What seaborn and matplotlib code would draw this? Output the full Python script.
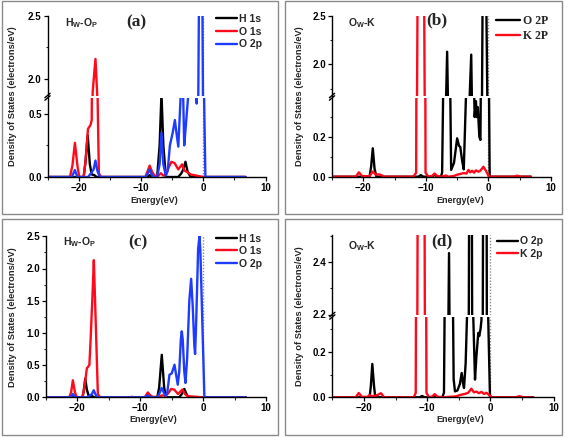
import matplotlib
matplotlib.use('Agg')
import matplotlib.pyplot as plt
from matplotlib.lines import Line2D
from matplotlib.patches import Rectangle
from matplotlib.ticker import MultipleLocator, FormatStrFormatter
import seaborn as sns

W, H = 567, 437

# ---- panel (a): Hw-Op ----
A_H1S_E = [-25, -19.2, -18.9, -18.55, -18.2, -17.9, -17.5, -17.1, -9.0, -8.6, -8.2, -7.4, -7.0, -6.7,
           -6.4, -6.0, -4.0, -3.5, -3.2, -2.85, -2.5, -2.0, 6.8]
A_H1S = [0, 0, 0.12, 0.33, 0.1, 0.02, 0.015, 0, 0, 0.015, 0, 0, 0.25, 0.66,
         0.25, 0, 0, 0.03, 0.06, 0.12, 0.04, 0, 0]
A_O1S_E = [-25, -21.4, -21.0, -20.6, -20.2, -19.9, -19.2, -18.9, -18.5, -18.1, -17.9, -17.75, -17.3,
           -17.0, -16.95, -16.75, -16.4, -9.3, -8.9, -8.6, -8.2, -7.8, -7.2, -6.8, -6.4, -6.0, -5.5,
           -5.1, -4.6, -4.0, -3.4, -3.0, -2.6, -2.0, -1.0, 0.0, 6.8]
A_O1S = [0, 0, 0.09, 0.27, 0.09, 0, 0, 0.12, 0.38, 0.41, 0.45, 1.9, 2.16,
         1.86, 0.6, 0.03, 0, 0, 0.05, 0.09, 0.04, 0.01, 0.01, 0.03, 0.01, 0.02, 0.08,
         0.12, 0.11, 0.06, 0.10, 0.05, 0.04, 0.02, 0.01, 0, 0]
A_O2P_E = [-25, -21.1, -20.6, -20.2, -18.5, -18.0, -17.6, -17.3, -17.0, -16.6, -9.2, -8.6, -8.1,
           -7.4, -7.0, -6.7, -6.4, -6.0, -5.7, -5.35, -4.9, -4.55, -4.3, -4.0, -3.63, -3.4, -3.2,
           -3.05, -2.8, -2.4, -1.8, -1.3, -1.05, -0.8, -0.6, -0.2, 0.0, 0.15, 0.35, 6.8]
A_O2P = [0, 0, 0.055, 0, 0, 0.03, 0.06, 0.13, 0.05, 0, 0, 0.06, 0,
         0, 0.1, 0.35, 0.1, 0.01, 0.05, 0.25, 0.35, 0.45, 0.35, 0.24, 0.63, 0.95, 0.6,
         0.25, 0.4, 0.65, 1.5, 0.9, 0.58, 1.8, 3.2, 3.2, 1.5, 0.6, 0, 0]

# ---- panel (b): Ow-K ----
B_O2P_E = [-25, -19.0, -18.75, -18.48, -18.2, -17.9, -11.2, -10.8, -10.4, -9.0, -8.6, -8.2, -7.6,
           -7.4, -7.0, -6.6, -6.3, -5.96, -5.5, -5.0, -4.7, -4.5, -4.2, -3.94, -3.5, -3.1, -2.75,
           -2.4, -2.2, -2.0, -1.85, -1.7, -1.45, -1.28, -1.1, -0.9, -0.4, -0.1, 0.2, 6.8]
B_O2P = [0, 0, 0.05, 0.143, 0.04, 0, 0, 0.008, 0, 0, 0.01, 0, 0,
         0.02, 1.0, 2.13, 1.0, 0.034, 0.07, 0.193, 0.155, 0.15, 0.08, 0.037, 0.5, 1.5, 2.1,
         0.6, 0.30, 0.38, 0.3, 0.35, 0.2, 0.185, 0.9, 3.0, 3.0, 1.2, 0, 0]
B_K2P_E = [-25, -21.2, -20.7, -20.2, -19.0, -18.5, -18.0, -17.5, -17.0, -16.6, -12.0, -11.55, -11.3,
           -10.3, -10.05, -9.6, -9.0, -8.6, -8.2, -7.5, -6.8, -6.4, -5.5, -5.0, -4.5, -4.0, -3.5,
           -3.2, -2.9, -2.6, -2.3, -2.0, -1.6, -1.3, -0.8, -0.4, 0.0, 0.3, 4.0, 4.6, 5.2, 6.8]
B_K2P = [0, 0, 0.022, 0.003, 0.002, 0.026, 0.01, 0.012, 0.006, 0, 0, 0.02, 3.0,
         3.0, 0.02, 0, 0.004, 0.016, 0.004, 0, 0.006, 0, 0.004, 0.01, 0.014, 0.018, 0.016,
         0.034, 0.022, 0.03, 0.02, 0.032, 0.025, 0.03, 0.05, 0.03, 0.005, 0, 0, 0.005, 0, 0]

# ---- panel (c): Hw-Op ----
C_H1S_E = [-25, -19.2, -19.0, -18.76, -18.5, -18.2, -17.7, -17.3, -7.3, -7.0, -6.58, -6.2, -5.9,
           -3.8, -3.4, -3.0, -2.6, -2.3, 6.8]
C_H1S = [0, 0, 0.1, 0.29, 0.12, 0.02, 0.02, 0, 0, 0.15, 0.66, 0.15, 0,
         0, 0.05, 0.13, 0.04, 0, 0]
C_O1S_E = [-25, -21.3, -21.0, -20.73, -20.4, -20.1, -19.2, -18.9, -18.5, -18.1, -17.9, -17.6, -17.39,
           -17.1, -16.75, -16.4, -11.6, -11.3, -11.0, -9.3, -8.8, -8.4, -8.0, -7.0, -6.5, -6.0,
           -5.5, -5.1, -4.6, -4.0, -3.3, -2.9, -2.5, -1.5, 0.0, 6.8]
C_O1S = [0, 0, 0.08, 0.264, 0.08, 0, 0, 0.15, 0.45, 0.5, 0.9, 1.6, 2.13,
         1.2, 0.05, 0, 0, 0.008, 0, 0, 0.075, 0.03, 0.005, 0.01, 0.03, 0.02,
         0.07, 0.13, 0.12, 0.05, 0.12, 0.05, 0.02, 0.01, 0, 0]
C_O2P_E = [-25, -21.1, -20.73, -20.3, -18.5, -18.0, -17.7, -17.4, -17.1, -16.8, -9.3, -8.8, -8.3,
           -7.3, -7.0, -6.6, -6.2, -5.95, -5.7, -5.36, -5.0, -4.56, -4.3, -4.04, -3.8, -3.55, -3.4,
           -3.25, -3.0, -2.81, -2.55, -2.2, -1.91, -1.65, -1.4, -1.28, -1.1, -0.8, -0.59, -0.45,
           0.2, 6.8]
C_O2P = [0, 0, 0.05, 0, 0, 0.03, 0.05, 0.11, 0.04, 0, 0, 0.03, 0,
         0, 0.05, 0.145, 0.06, 0.02, 0.08, 0.35, 0.37, 0.506, 0.35, 0.196, 0.4, 0.9, 1.025,
         0.9, 0.4, 0.222, 0.6, 1.5, 1.84, 1.4, 0.8, 0.672, 1.2, 2.3, 2.5, 2.3,
         0, 0]

# ---- panel (d): Ow-K ----
D_O2P_E = [-25, -19.1, -18.9, -18.67, -18.4, -18.2, -11.2, -10.8, -10.4, -9.1, -8.8, -8.5, -7.6,
           -7.33, -7.0, -6.53, -6.1, -5.8, -5.59, -5.2, -4.8, -4.53, -4.3, -4.16, -3.9, -3.64,
           -3.3, -2.95, -2.7, -2.42, -2.2, -1.9, -1.75, -1.55, -1.4, -1.1, -0.6, -0.45, -0.05, 6.8]
D_O2P = [0, 0, 0.05, 0.147, 0.05, 0, 0, 0.006, 0, 0, 0.01, 0, 0,
         0.02, 1.2, 2.435, 1.0, 0.08, 0.026, 0.03, 0.06, 0.107, 0.06, 0.041, 0.15, 0.4,
         3.0, 3.0, 0.36, 0.078, 0.18, 0.284, 0.27, 0.30, 0.34, 3.0, 3.0, 0.5, 0, 0]
D_K2P_E = [-25, -21.3, -20.82, -20.3, -19.4, -19.1, -18.8, -18.0, -17.3, -16.8, -12.1, -11.8, -11.45,
           -10.45, -10.1, -9.7, -9.2, -8.8, -8.4, -7.5, -5.5, -4.5, -4.0, -3.5, -3.0, -2.6, -2.2,
           -1.8, -1.4, -1.0, -0.6, -0.2, 0.3, 4.0, 4.6, 5.2, 6.8]
D_K2P = [0, 0, 0.019, 0.002, 0.002, 0.01, 0.004, 0.008, 0.018, 0, 0, 0.02, 3.0,
         3.0, 0.02, 0, 0.003, 0.014, 0.003, 0, 0.004, 0.012, 0.015, 0.02, 0.038, 0.022, 0.025,
         0.018, 0.024, 0.015, 0.02, 0.01, 0, 0, 0.005, 0, 0]

BLACK, RED, BLUE = '#000000', '#ff0a1a', '#1e3cff'
GRID_GRAY = '#8a8a8a'
LW = 1.7

sns.set_theme(style='ticks')
plt.rcParams['font.family'] = ['Liberation Sans', 'DejaVu Sans']
plt.rcParams['font.weight'] = 'bold'
plt.rcParams['mathtext.fontset'] = 'custom'
plt.rcParams['mathtext.bf'] = 'Liberation Sans:bold'
plt.rcParams['mathtext.rm'] = 'Liberation Sans:bold'

fig = plt.figure(figsize=(W / 100, H / 100), dpi=100)


def box(l, t, r, b):
    return [l / W, 1 - b / H, (r - l) / W, (b - t) / H]


def fline(x1, y1, x2, y2, **kw):
    fig.add_artist(Line2D([x1 / W, x2 / W], [1 - y1 / H, 1 - y2 / H],
                          transform=fig.transFigure, **kw))


def style(ax, bottom, major, minor):
    for s in ['top', 'right']:
        ax.spines[s].set_visible(False)
    for s in ['left', 'bottom']:
        ax.spines[s].set_color('black')
        ax.spines[s].set_linewidth(1.0)
    ax.set_xlim(-25, 10)
    ax.xaxis.set_major_locator(MultipleLocator(10))
    ax.xaxis.set_minor_locator(MultipleLocator(5))
    ax.yaxis.set_major_locator(MultipleLocator(major))
    ax.yaxis.set_minor_locator(MultipleLocator(minor))
    ax.yaxis.set_major_formatter(FormatStrFormatter('%.1f'))
    ax.tick_params(which='major', direction='out', length=3, width=0.9, labelsize=7, pad=1.2,
                   colors='black')
    ax.tick_params(which='minor', direction='out', length=1.8, width=0.8)
    ax.tick_params(axis='x', which='both', top=False)
    ax.tick_params(axis='y', which='both', right=False)
    if not bottom:
        ax.spines['bottom'].set_visible(False)
        ax.tick_params(axis='x', which='both', bottom=False, labelbottom=False)
    ax.set_xlabel('')
    ax.set_ylabel('')
    ax.patch.set_alpha(0)


def panel(l, r, t, b, series, split=None, ticks=((0.5, 0.25),)):
    if split is None:
        axes = [fig.add_axes(box(l, t, r, b))]
        axes[0].set_ylim(0, 2.5)
    else:
        yu, yl, lim_u, lim_l = split
        axes = [fig.add_axes(box(l, t, r, yu)), fig.add_axes(box(l, yl, r, b))]
        axes[0].set_ylim(*lim_u)
        axes[1].set_ylim(*lim_l)
        for y0 in (yu, yl):
            fline(l - 2.6, y0 + 2.2, l + 2.6, y0 - 2.2, color='black', lw=1.0)
    for ax in axes:
        ax.axvline(0, color=GRID_GRAY, ls=(0, (1, 1.2)), lw=1.0)
        for E, v, c in series:
            sns.lineplot(x=E, y=v, ax=ax, color=c, linewidth=LW, sort=False,
                         estimator=None, legend=False)
    for i, ax in enumerate(axes):
        style(ax, bottom=(i == len(axes) - 1), major=ticks[i][0], minor=ticks[i][1])
    return axes


def legend(ax, x, y, labels, colors, family=None, size=7.5):
    handles = [Line2D([], [], color=c, lw=LW) for c in colors]
    prop = {'size': size, 'weight': 'bold'}
    if family:
        prop['family'] = family
    ax.legend(handles, labels, loc='upper left', bbox_to_anchor=(x / W, 1 - y / H),
              bbox_transform=fig.transFigure, frameon=False, prop=prop,
              handlelength=2.0, handletextpad=0.25, labelspacing=0.25,
              borderpad=0, borderaxespad=0)


# quadrant frames
for (l, t, r, b) in [(1.5, 1.5, 278, 214), (284.5, 1.5, 562, 214),
                     (1.5, 218.5, 278, 434.5), (284.5, 218.5, 562, 434.5)]:
    fig.add_artist(Rectangle((l / W, 1 - b / H), (r - l) / W, (b - t) / H,
                             transform=fig.transFigure, fill=False,
                             edgecolor=GRID_GRAY, lw=1.0))

YLAB = 'Density of States (electrons/eV)'

# (a)
axa = panel(47.5, 265.5, 15.7, 177,
            [(A_H1S_E, A_H1S, BLACK), (A_O1S_E, A_O1S, RED), (A_O2P_E, A_O2P, BLUE)],
            split=(95.5, 98.0, (1.872, 2.5), (0, 0.624)),
            ticks=((0.5, 0.25), (0.5, 0.25)))
legend(axa[0], 216, 14.0, ['H 1s', 'O 1s', 'O 2p'], [BLACK, RED, BLUE])
fig.text(13 / W, 1 - 96.5 / H, YLAB, rotation=90, ha='center', va='center', fontsize=6.7)
fig.text(154 / W, 1 - 200 / H, 'Energy(eV)', ha='center', va='center', fontsize=6.5)
fig.text(65 / W, 1 - 22.7 / H, r'$\mathbf{H_W}$-$\mathbf{O_P}$', ha='left', va='center', fontsize=7.5)
fig.text(136 / W, 1 - 22 / H, '(a)', ha='center', va='center', fontsize=12.5,
         family='Liberation Serif', weight='bold')

# (b)
axb = panel(332, 551, 15.7, 176.7,
            [(B_O2P_E, B_O2P, BLACK), (B_K2P_E, B_K2P, RED)],
            split=(95.5, 98.0, (1.68, 2.5), (0, 0.396)),
            ticks=((0.5, 0.25), (0.2, 0.1)))
legend(axb[0], 496, 15.0, ['O 2P', 'K 2P'], [BLACK, RED], family='Liberation Serif', size=8.5)
fig.text(299 / W, 1 - 96.5 / H, YLAB, rotation=90, ha='center', va='center', fontsize=6.7)
fig.text(460 / W, 1 - 200 / H, 'Energy(eV)', ha='center', va='center', fontsize=6.5)
fig.text(348 / W, 1 - 22.7 / H, r'$\mathbf{O_W}$-K', ha='left', va='center', fontsize=7.5)
fig.text(437 / W, 1 - 20 / H, '(b)', ha='center', va='center', fontsize=12.5,
         family='Liberation Serif', weight='bold')

# (c)
axc = panel(46, 266, 236.3, 397.3,
            [(C_H1S_E, C_H1S, BLACK), (C_O1S_E, C_O1S, RED), (C_O2P_E, C_O2P, BLUE)])
legend(axc[0], 216, 233.5, ['H 1s', 'O 1s', 'O 2p'], [BLACK, RED, BLUE])
fig.text(12.7 / W, 1 - 316.8 / H, YLAB, rotation=90, ha='center', va='center', fontsize=6.7)
fig.text(153.3 / W, 1 - 420 / H, 'Energy(eV)', ha='center', va='center', fontsize=6.5)
fig.text(63 / W, 1 - 242 / H, r'$\mathbf{H_W}$-$\mathbf{O_P}$', ha='left', va='center', fontsize=7.5)
fig.text(137.5 / W, 1 - 242 / H, '(c)', ha='center', va='center', fontsize=12.5,
         family='Liberation Serif', weight='bold')

# (d)
axd = panel(332.3, 553.5, 235.3, 397.3,
            [(D_O2P_E, D_O2P, BLACK), (D_K2P_E, D_K2P, RED)],
            split=(314.5, 317.0, (2.2, 2.503), (0, 0.354)),
            ticks=((0.2, 0.1), (0.2, 0.1)))
legend(axd[0], 497, 236.5, ['O 2p', 'K 2p'], [BLACK, RED])
fig.text(299 / W, 1 - 316.3 / H, YLAB, rotation=90, ha='center', va='center', fontsize=6.7)
fig.text(460.3 / W, 1 - 420 / H, 'Energy(eV)', ha='center', va='center', fontsize=6.5)
fig.text(348 / W, 1 - 246 / H, r'$\mathbf{O_W}$-K', ha='left', va='center', fontsize=7.5)
fig.text(442 / W, 1 - 241.3 / H, '(d)', ha='center', va='center', fontsize=12.5,
         family='Liberation Serif', weight='bold')

fig.savefig('out.png', dpi=100)
